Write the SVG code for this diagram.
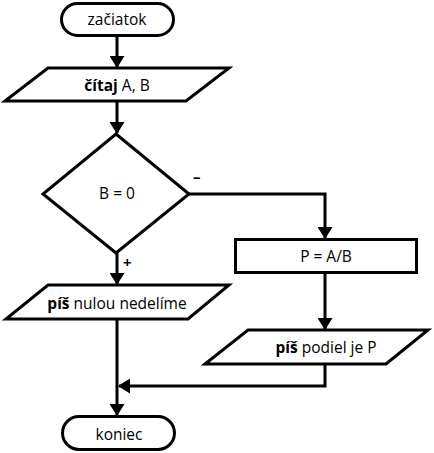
<svg xmlns="http://www.w3.org/2000/svg" width="434" height="453" viewBox="0 0 434 453">
<style>
.s{fill:#fff;stroke:#000;stroke-width:3;stroke-linejoin:miter}
.t{font-family:"Open Sans","Noto Sans",sans-serif;font-size:15.5px;fill:#000;text-anchor:middle}
.b{font-weight:bold}
.c{fill:none;stroke:#000;stroke-width:3}
.l{font-family:"Open Sans","Noto Sans",sans-serif;font-size:15px;font-weight:bold;fill:#000}
</style>
<defs>
<marker id="a" markerUnits="userSpaceOnUse" viewBox="0 0 12 15" refX="11" refY="7.5" markerWidth="12" markerHeight="15" orient="auto">
<path d="M0,0 L12,7.5 L0,15 Z" fill="#000"/>
</marker>
</defs>
<rect width="434" height="453" fill="#fff"/>
<g id="connectors">
<path class="c" d="M117,35 V67" marker-end="url(#a)"/>
<path class="c" d="M117,101 V133" marker-end="url(#a)"/>
<path class="c" d="M189,194 H325 V238" marker-end="url(#a)"/>
<path class="c" d="M117,253 V284" marker-end="url(#a)"/>
<path class="c" d="M325,273 V329" marker-end="url(#a)"/>
<path class="c" d="M325,364 V386 H119" marker-end="url(#a)"/>
<path class="c" d="M117,319 V415" marker-end="url(#a)"/>
<text class="l" x="193" y="182">–</text>
<text class="l" x="123" y="268">+</text>
</g>
<g id="start">
<rect class="s" x="61.5" y="3.5" width="112" height="32" rx="16"/>
<text class="t" x="117" y="25">začiatok</text>
</g>
<g id="input">
<polygon class="s" points="48,68 229,68 186,101 5,101"/>
<text class="t" x="117" y="91"><tspan class="b">čítaj</tspan> A, B</text>
</g>
<g id="decision">
<polygon class="s" points="116,134 189,194 116,253 43,194"/>
<text class="t" x="117" y="199">B = 0</text>
</g>
<g id="assign">
<rect class="s" x="235.5" y="239.5" width="181" height="33"/>
<text class="t" x="326" y="262">P = A/B</text>
</g>
<g id="outzero">
<polygon class="s" points="48,285 229,285 188,319 6,319"/>
<text class="t" x="117" y="309"><tspan class="b">píš</tspan> nulou nedelíme</text>
</g>
<g id="outresult">
<polygon class="s" points="248,330 428,330 386,364 205,364"/>
<text class="t" x="326" y="353"><tspan class="b">píš</tspan> podiel je P</text>
</g>
<g id="end">
<rect class="s" x="62.5" y="416.5" width="112" height="33" rx="16.5"/>
<text class="t" x="119" y="440">koniec</text>
</g>
</svg>
